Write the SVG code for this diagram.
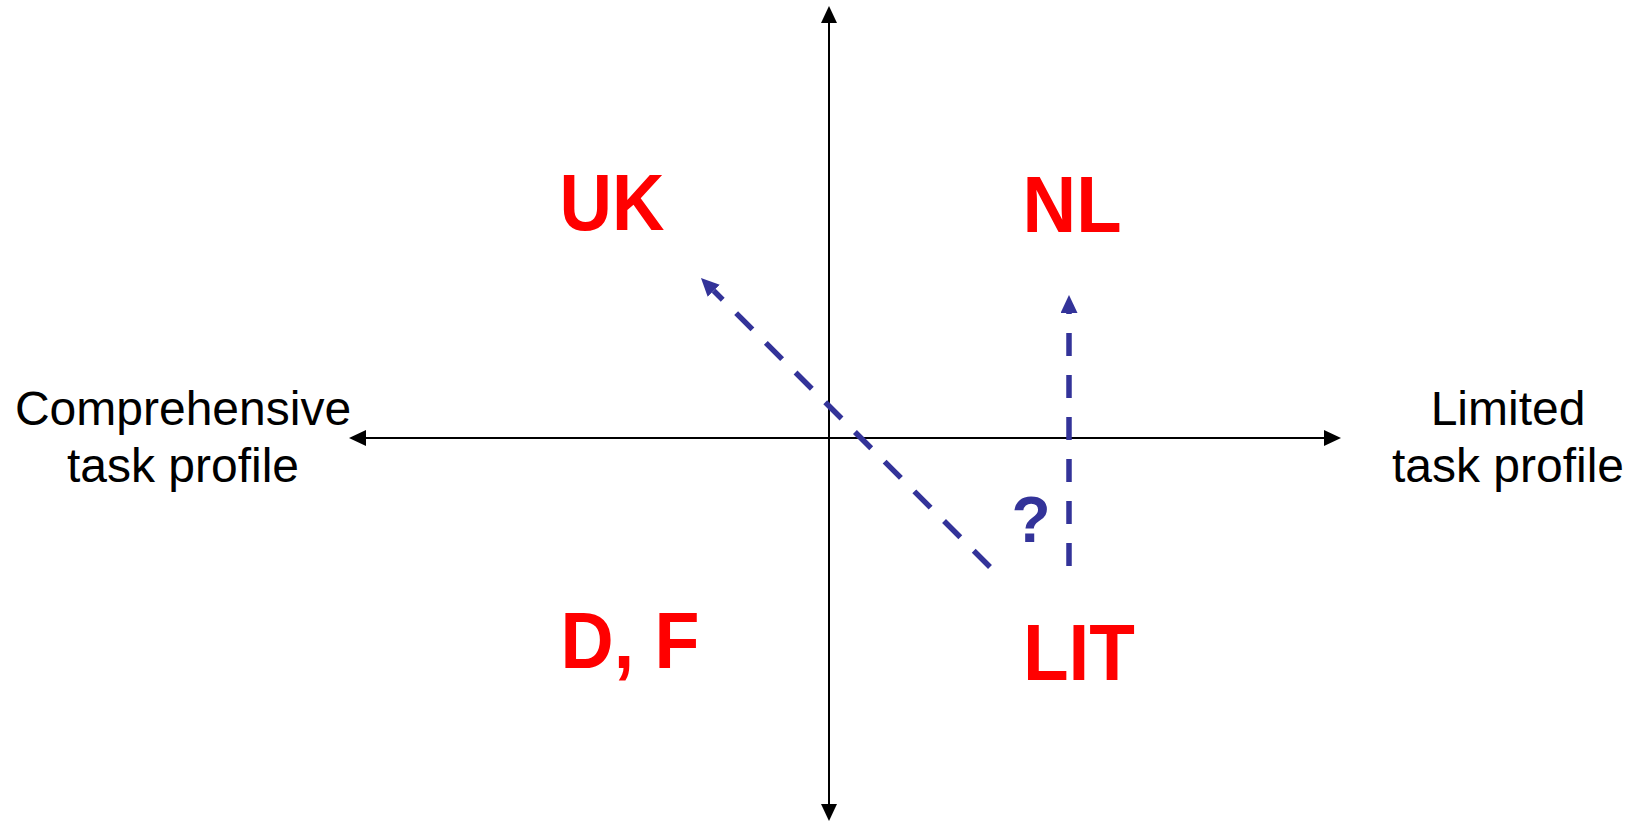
<svg xmlns="http://www.w3.org/2000/svg" width="1634" height="822" viewBox="0 0 1634 822">
<style>
.axis{stroke:#000;stroke-width:2;fill:none}
.dash{stroke:#333399;stroke-width:5.5;fill:none;stroke-dasharray:23 19}
.lbl{font-family:"Liberation Sans",Arial,sans-serif;font-size:48px;fill:#000;text-anchor:middle}
.cty{font-family:"Liberation Sans",Arial,sans-serif;font-size:79px;font-weight:bold;fill:#FF0000;text-anchor:middle}
.q{font-family:"Liberation Sans",Arial,sans-serif;font-size:64px;font-weight:bold;fill:#333399;text-anchor:middle}
</style>
<defs>
<marker id="ah" markerUnits="userSpaceOnUse" markerWidth="17" markerHeight="16" viewBox="0 0 17 16" refX="0" refY="8" orient="auto-start-reverse">
<path d="M0,0 L17,8 L0,16 z" fill="#000"/>
</marker>
<marker id="bh" markerUnits="userSpaceOnUse" markerWidth="18" markerHeight="17" viewBox="0 0 18 17" refX="0" refY="8.5" orient="auto">
<path d="M0,0 L18,8.5 L0,17 z" fill="#333399"/>
</marker>
</defs>
<rect width="1634" height="822" fill="#fff"/>
<g id="connectors">
<line class="axis" x1="829" y1="23" x2="829" y2="804" marker-start="url(#ah)" marker-end="url(#ah)"/>
<line class="axis" x1="366" y1="438" x2="1324" y2="438" marker-start="url(#ah)" marker-end="url(#ah)"/>
<path class="dash" d="M990,567 L713.7,290.7" marker-end="url(#bh)"/>
<path class="dash" d="M1069,566 L1069,313" marker-end="url(#bh)"/>
</g>
<g id="label-left"><text class="lbl" x="183" y="425">Comprehensive</text><text class="lbl" x="183" y="482">task profile</text></g>
<g id="label-right"><text class="lbl" x="1508" y="425">Limited</text><text class="lbl" x="1508" y="482">task profile</text></g>
<g id="node-uk"><text class="cty" x="612" y="230" textLength="105" lengthAdjust="spacingAndGlyphs">UK</text></g>
<g id="node-nl"><text class="cty" x="1072" y="232" textLength="99" lengthAdjust="spacingAndGlyphs">NL</text></g>
<g id="node-df"><text class="cty" x="630" y="668" textLength="139" lengthAdjust="spacingAndGlyphs">D, F</text></g>
<g id="node-lit"><text class="cty" x="1079" y="680" textLength="112" lengthAdjust="spacingAndGlyphs">LIT</text></g>
<g id="question"><text class="q" x="1031" y="542">?</text></g>
</svg>
